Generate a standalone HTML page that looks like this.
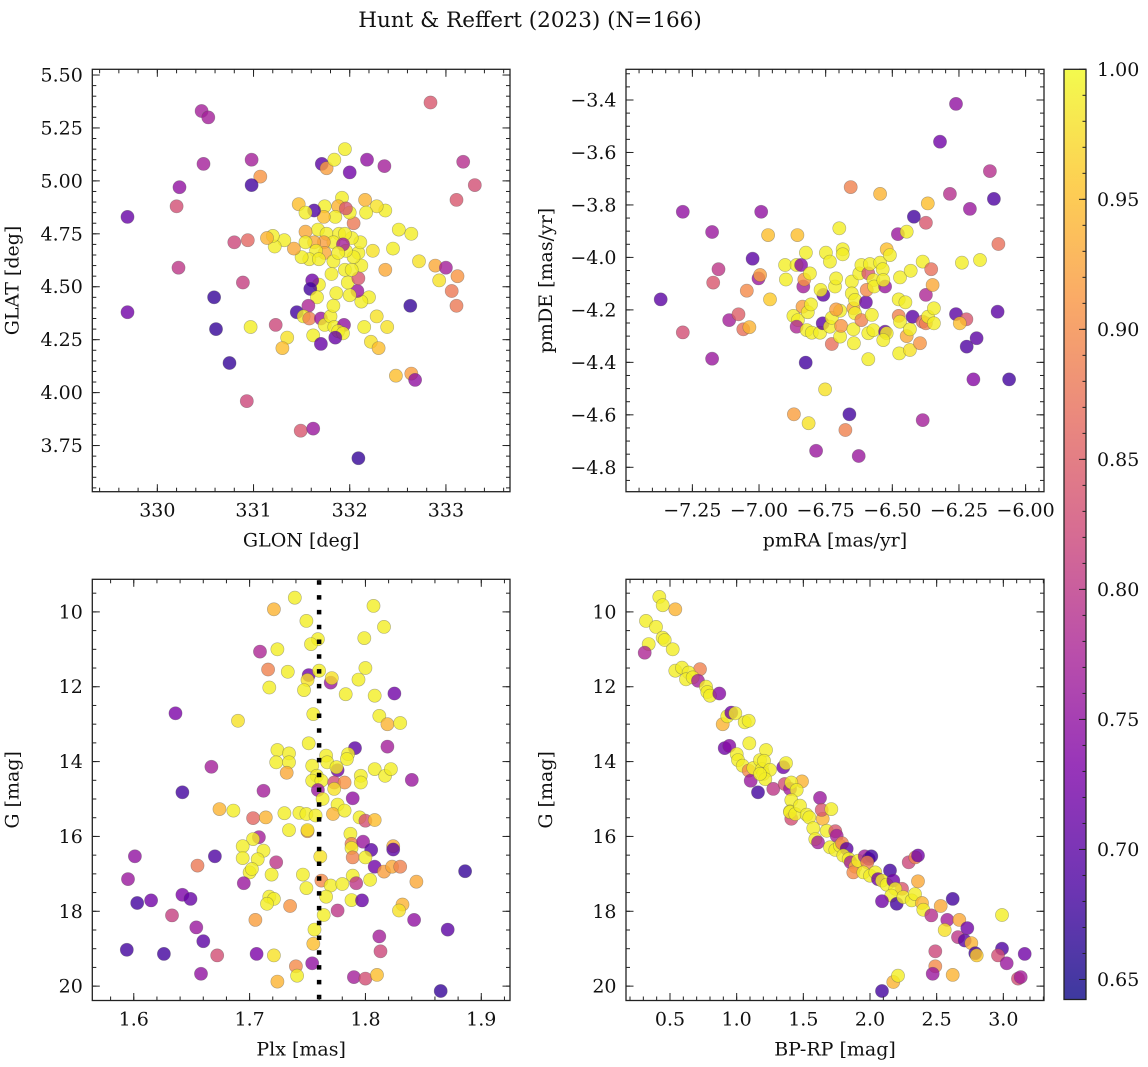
<!DOCTYPE html>
<html><head><meta charset="utf-8"><title>Hunt & Reffert (2023)</title>
<style>
html,body{margin:0;padding:0;background:#fff;}
svg{display:block;font-family:"DejaVu Serif","Liberation Serif",serif;}
</style></head>
<body>
<svg id="fig" xmlns="http://www.w3.org/2000/svg" width="1148" height="1067" viewBox="0 0 1148 1067">
<rect width="1148" height="1067" fill="#fff"/>
<text x="530" y="27" font-size="21.5" text-anchor="middle" fill="#111">Hunt &amp; Reffert (2023) (N=166)</text>
<defs>
<linearGradient id="plasma" x1="0" y1="1" x2="0" y2="0">
<stop offset="0" stop-color="#0d0887"/><stop offset="0.125" stop-color="#4c02a1"/><stop offset="0.25" stop-color="#7e03a8"/><stop offset="0.375" stop-color="#a92395"/><stop offset="0.5" stop-color="#cc4778"/><stop offset="0.625" stop-color="#e56b5d"/><stop offset="0.75" stop-color="#f89441"/><stop offset="0.875" stop-color="#fdc328"/><stop offset="1" stop-color="#f0f921"/>
</linearGradient>
</defs>
<g id="plots"></g>
</svg>
<script>
// membership probability colour scale
const probMin = 0.6423, probMax = 1.0;
const cbarTicks = [0.65,0.70,0.75,0.80,0.85,0.90,0.95,1.00];

// panel 1: [GLON, GLAT, prob]
const skyPoints = [
[330.46,5.33,.77],[330.53,5.30,.77],[332.84,5.37,.84],[330.48,5.08,.77],[330.98,5.10,.77],[331.71,5.08,.70],[331.76,5.06,.92],[331.84,5.10,.99],[331.95,5.15,.99],[332.00,5.04,.72],[332.18,5.10,.75],[332.36,5.07,.77],[333.18,5.09,.79],[333.30,4.98,.83],[333.11,4.91,.84],[331.07,5.02,.91],[330.98,4.98,.68],[330.23,4.97,.75],[330.20,4.88,.83],[329.69,4.83,.71],[330.22,4.59,.80],[329.69,4.38,.72],[330.59,4.45,.67],[330.61,4.30,.67],[330.75,4.14,.67],[330.89,4.52,.81],[330.80,4.71,.82],[330.94,4.72,.86],[330.97,4.31,.99],[331.23,4.32,.82],[331.35,4.26,.98],[331.30,4.21,.95],[330.93,3.96,.82],[331.49,3.82,.84],[331.62,3.83,.76],[332.09,3.69,.67],[332.63,4.41,.67],[332.48,4.08,.95],[332.64,4.09,.92],[332.68,4.06,.75],[332.72,4.62,.98],[332.89,4.60,.93],[333.00,4.59,.77],[332.93,4.53,.98],[333.12,4.55,.91],[333.06,4.48,.88],[333.11,4.41,.88],[332.64,4.75,.99],[332.51,4.77,.99],[332.45,4.68,.99],[332.37,4.86,.99],[332.28,4.88,.98],[332.16,4.91,.94],[332.17,4.85,.99],[332.24,4.67,.98],[332.37,4.58,.93],[332.39,4.31,.98],[332.28,4.36,.98],[332.22,4.24,.98],[332.30,4.21,.95],[332.15,4.31,.99],[332.20,4.45,.99],[332.12,4.43,.99],[332.08,4.48,.76],[332.00,4.46,.99],[331.98,4.52,.99],[332.09,4.54,.84],[332.12,4.60,.99],[332.09,4.66,.99],[332.11,4.71,.99],[332.04,4.64,.99],[331.96,4.67,.99],[332.02,4.73,.99],[332.04,4.80,.88],[332.00,4.85,.99],[331.92,4.92,.99],[331.88,4.88,.94],[331.96,4.87,.84],[331.85,4.83,.99],[331.74,4.88,.99],[331.73,4.83,.95],[331.63,4.86,.69],[331.47,4.89,.95],[331.54,4.85,.99],[331.67,4.77,.99],[331.54,4.76,.93],[331.76,4.75,.99],[331.89,4.75,.99],[331.95,4.75,.99],[331.83,4.71,.99],[331.73,4.71,.92],[331.63,4.71,.93],[331.54,4.71,.99],[331.74,4.66,.93],[331.83,4.62,.99],[331.65,4.67,.99],[331.58,4.63,.99],[331.68,4.63,.99],[331.50,4.64,.99],[331.42,4.68,.93],[331.32,4.72,.99],[331.22,4.69,.99],[331.20,4.74,.99],[331.14,4.73,.94],[331.93,4.70,.77],[331.88,4.66,.99],[331.95,4.58,.99],[332.02,4.58,.99],[331.81,4.56,.99],[331.86,4.47,.99],[331.68,4.51,.99],[331.61,4.53,.72],[331.59,4.49,.68],[331.66,4.45,.99],[331.45,4.38,.68],[331.57,4.41,.78],[331.52,4.36,.99],[331.58,4.35,.89],[331.70,4.35,.76],[331.74,4.32,.99],[331.80,4.36,.99],[331.83,4.41,.99],[331.84,4.31,.99],[331.94,4.32,.75],[331.88,4.29,.99],[331.93,4.28,.99],[331.85,4.26,.71],[331.62,4.27,.99],[331.70,4.23,.71]
];

// panel 2: [pmRA, pmDE, prob]
const pmPoints = [
[-7.369,-4.160,.70],[-7.286,-3.826,.75],[-7.286,-4.286,.83],[-7.176,-3.903,.76],[-7.176,-4.386,.76],[-7.152,-4.045,.80],[-7.172,-4.096,.84],[-7.112,-4.239,.77],[-7.077,-4.217,.85],[-7.059,-4.274,.87],[-7.036,-4.266,.94],[-7.046,-4.127,.90],[-7.024,-4.005,.70],[-7.002,-4.080,.76],[-6.996,-4.067,.92],[-6.992,-3.826,.75],[-6.966,-3.915,.95],[-6.959,-4.160,.96],[-6.902,-4.029,.99],[-6.899,-4.084,.99],[-6.856,-3.915,.95],[-6.859,-4.029,.99],[-6.842,-4.029,.74],[-6.871,-4.223,.99],[-6.854,-4.239,.99],[-6.859,-4.264,.78],[-6.834,-4.111,.77],[-6.830,-4.084,.91],[-6.809,-4.061,.99],[-6.824,-3.982,.99],[-6.837,-4.188,.92],[-6.817,-4.209,.99],[-6.805,-4.179,.99],[-6.821,-4.277,.99],[-6.802,-4.287,.99],[-6.771,-4.287,.99],[-6.761,-4.251,.70],[-6.759,-4.143,.70],[-6.769,-4.124,.99],[-6.734,-4.264,.99],[-6.749,-3.982,.99],[-6.734,-4.016,.99],[-6.715,-4.111,.99],[-6.711,-4.080,.99],[-6.727,-4.330,.87],[-6.727,-4.230,.99],[-6.696,-4.302,.99],[-6.692,-4.261,.91],[-6.696,-4.203,.99],[-6.711,-4.198,.92],[-6.699,-3.889,.99],[-6.686,-3.969,.99],[-6.686,-3.988,.99],[-6.656,-3.732,.89],[-6.652,-4.092,.99],[-6.652,-4.137,.99],[-6.646,-4.194,.93],[-6.640,-4.162,.99],[-6.640,-4.213,.99],[-6.646,-4.274,.99],[-6.644,-4.327,.99],[-6.624,-4.061,.99],[-6.616,-4.029,.99],[-6.599,-4.171,.71],[-6.616,-4.239,.89],[-6.590,-4.061,.84],[-6.584,-4.025,.99],[-6.571,-4.086,.99],[-6.596,-4.124,.90],[-6.577,-4.219,.99],[-6.590,-4.289,.99],[-6.590,-4.388,.99],[-6.568,-4.111,.99],[-6.546,-4.020,.99],[-6.536,-4.045,.99],[-6.527,-4.111,.76],[-6.534,-4.086,.99],[-6.521,-3.969,.95],[-6.509,-3.991,.99],[-6.546,-3.758,.94],[-6.571,-4.277,.99],[-6.527,-4.283,.71],[-6.521,-4.289,.99],[-6.534,-4.315,.99],[-6.479,-3.911,.76],[-6.446,-3.902,.99],[-6.471,-4.076,.99],[-6.431,-4.051,.99],[-6.476,-4.160,.99],[-6.451,-4.171,.99],[-6.476,-4.223,.89],[-6.471,-4.245,.99],[-6.446,-4.300,.93],[-6.434,-4.274,.99],[-6.474,-4.366,.99],[-6.434,-4.353,.98],[-6.396,-4.327,.91],[-6.424,-4.226,.70],[-6.419,-3.845,.68],[-6.386,-4.016,.99],[-6.374,-3.868,.84],[-6.367,-3.794,.95],[-6.374,-4.143,.78],[-6.386,-4.245,.86],[-6.374,-4.251,.89],[-6.354,-4.045,.87],[-6.349,-4.105,.93],[-6.366,-4.226,.99],[-6.344,-4.194,.99],[-6.344,-4.251,.99],[-6.386,-4.620,.77],[-6.321,-3.559,.72],[-6.261,-3.415,.75],[-6.284,-3.758,.79],[-6.261,-4.216,.70],[-6.222,-4.236,.84],[-6.247,-4.251,.95],[-6.239,-4.020,.99],[-6.221,-4.340,.69],[-6.209,-3.815,.76],[-6.196,-4.465,.74],[-6.184,-4.308,.70],[-6.171,-4.010,.99],[-6.134,-3.671,.79],[-6.119,-3.777,.69],[-6.102,-3.949,.87],[-6.105,-4.207,.70],[-6.062,-4.465,.68],[-6.825,-4.401,.68],[-6.752,-4.503,.98],[-6.869,-4.598,.92],[-6.814,-4.632,.98],[-6.661,-4.598,.68],[-6.676,-4.658,.89],[-6.786,-4.737,.76],[-6.626,-4.757,.76]
];

// panel 3: [Plx, G, prob]
const plxPoints = [
[1.739,9.62,.99],[1.721,9.93,.94],[1.749,10.24,.99],[1.807,9.84,.99],[1.816,10.40,.99],[1.759,10.73,.99],[1.753,10.86,.99],[1.799,10.70,.99],[1.724,11.00,.99],[1.709,11.06,.78],[1.716,11.54,.89],[1.733,11.60,.99],[1.751,11.69,.72],[1.750,11.82,.98],[1.760,11.57,.99],[1.770,11.89,.76],[1.771,11.77,.98],[1.800,11.50,.99],[1.794,11.81,.99],[1.717,12.02,.99],[1.747,12.09,.99],[1.783,12.20,.99],[1.808,12.24,.99],[1.825,12.18,.72],[1.636,12.71,.73],[1.690,12.91,.98],[1.755,12.73,.99],[1.812,12.78,.99],[1.819,13.00,.94],[1.830,12.97,.99],[1.751,13.51,.99],[1.724,13.69,.99],[1.734,13.78,.99],[1.723,14.02,.99],[1.734,14.02,.99],[1.732,14.30,.93],[1.791,13.64,.70],[1.819,13.60,.77],[1.667,14.14,.77],[1.754,14.11,.99],[1.766,13.84,.99],[1.767,14.02,.99],[1.776,14.23,.72],[1.775,14.15,.99],[1.785,13.80,.99],[1.784,13.93,.99],[1.758,14.38,.99],[1.754,14.51,.99],[1.762,14.51,.99],[1.773,14.56,.83],[1.782,14.56,.91],[1.773,14.73,.98],[1.796,14.38,.99],[1.796,14.56,.99],[1.808,14.20,.99],[1.817,14.38,.99],[1.822,14.20,.99],[1.840,14.49,.76],[1.642,14.82,.68],[1.712,14.78,.77],[1.759,14.76,.76],[1.789,14.98,.75],[1.763,15.00,.99],[1.776,15.15,.99],[1.674,15.27,.94],[1.686,15.31,.99],[1.703,15.51,.86],[1.714,15.49,.94],[1.730,15.38,.99],[1.743,15.37,.99],[1.749,15.40,.99],[1.757,15.44,.99],[1.772,15.40,.94],[1.782,15.31,.99],[1.795,15.49,.99],[1.800,15.58,.83],[1.808,15.56,.95],[1.734,15.83,.99],[1.750,15.86,.91],[1.750,15.83,.98],[1.708,16.02,.77],[1.703,16.07,.99],[1.787,15.93,.99],[1.788,16.20,.89],[1.798,16.14,.76],[1.805,16.36,.70],[1.788,16.31,.99],[1.694,16.26,.99],[1.694,16.58,.99],[1.712,16.38,.99],[1.707,16.61,.99],[1.723,16.69,.80],[1.655,16.78,.88],[1.670,16.53,.69],[1.601,16.53,.75],[1.761,16.54,.98],[1.789,16.56,.89],[1.800,16.56,.99],[1.824,16.26,.94],[1.824,16.35,.70],[1.808,16.81,.72],[1.816,16.94,.92],[1.823,16.81,.93],[1.830,16.81,.89],[1.700,16.96,.99],[1.702,16.87,.99],[1.695,17.25,.76],[1.719,17.02,.99],[1.746,17.02,.99],[1.789,17.05,.99],[1.792,17.25,.80],[1.804,17.16,.99],[1.762,17.18,.90],[1.770,17.31,.99],[1.780,17.27,.99],[1.749,17.38,.99],[1.844,17.21,.93],[1.886,16.93,.67],[1.595,17.14,.76],[1.642,17.56,.73],[1.649,17.67,.71],[1.615,17.71,.72],[1.603,17.78,.68],[1.633,18.11,.81],[1.654,18.43,.76],[1.660,18.80,.70],[1.717,17.61,.99],[1.721,17.67,.99],[1.715,17.80,.99],[1.735,17.86,.91],[1.766,17.61,.99],[1.788,17.70,.99],[1.797,17.71,.71],[1.776,17.98,.80],[1.764,18.10,.99],[1.832,17.82,.94],[1.829,17.98,.98],[1.842,18.23,.75],[1.871,18.49,.70],[1.812,18.67,.77],[1.813,19.07,.82],[1.705,18.23,.92],[1.756,18.49,.99],[1.755,18.87,.95],[1.594,19.03,.68],[1.626,19.14,.68],[1.672,19.18,.83],[1.706,19.14,.73],[1.721,19.18,.98],[1.754,19.39,.75],[1.740,19.47,.90],[1.741,19.72,.99],[1.658,19.67,.75],[1.724,19.88,.94],[1.790,19.76,.77],[1.800,19.80,.83],[1.810,19.70,.95],[1.865,20.13,.67]
];

// panel 4: [BP-RP, G, prob]
const cmdPoints = [
[0.42,9.60,.99],[0.445,9.82,.99],[0.54,9.93,.94],[0.32,10.24,.99],[0.395,10.40,.99],[0.445,10.69,.99],[0.46,10.75,.99],[0.34,10.86,.99],[0.31,11.09,.78],[0.52,11.00,.99],[0.54,11.57,.99],[0.59,11.49,.99],[0.725,11.53,.89],[0.64,11.62,.99],[0.62,11.80,.99],[0.67,11.75,.99],[0.71,11.84,.77],[0.77,12.00,.99],[0.78,12.14,.99],[0.80,12.24,.99],[0.87,12.18,.74],[0.895,13.00,.94],[0.93,12.79,.99],[0.96,12.69,.72],[0.99,12.71,.99],[1.06,12.95,.99],[1.09,12.91,.99],[1.095,13.51,.99],[0.91,13.64,.72],[0.945,13.58,.74],[1.00,13.80,.99],[1.01,13.96,.99],[1.045,14.11,.99],[1.09,14.24,.90],[1.105,14.51,.76],[1.125,14.17,.99],[1.16,14.82,.68],[1.175,13.96,.99],[1.19,14.20,.99],[1.20,14.33,.99],[1.22,13.69,.99],[1.205,13.98,.99],[1.25,14.22,.99],[1.215,14.47,.99],[1.175,14.33,.99],[1.275,14.73,.80],[1.35,14.15,.72],[1.37,14.04,.99],[1.36,14.60,.83],[1.40,14.73,.77],[1.49,14.53,.94],[1.41,14.56,.99],[1.45,14.76,.99],[1.41,15.03,.99],[1.40,15.33,.99],[1.41,15.53,.83],[1.40,15.35,.99],[1.44,15.40,.99],[1.475,15.18,.99],[1.525,15.42,.99],[1.545,15.49,.99],[1.625,14.97,.76],[1.645,15.53,.94],[1.6375,15.29,.84],[1.71,15.27,.99],[1.575,15.78,.99],[1.59,16.07,.99],[1.61,16.16,.77],[1.675,15.85,.99],[1.74,15.86,.84],[1.75,15.98,.77],[1.70,16.29,.99],[1.74,16.36,.99],[1.775,16.25,.99],[1.79,16.18,.89],[1.825,16.33,.70],[1.80,16.51,.99],[1.84,16.60,.99],[1.855,16.69,.77],[1.89,16.81,.94],[1.875,16.96,.90],[1.91,16.65,.99],[1.96,16.53,.77],[1.99,16.60,.72],[2.01,16.53,.68],[1.98,16.69,.89],[1.95,16.96,.99],[2.00,17.05,.99],[2.04,16.96,.99],[2.06,17.14,.72],[2.15,16.91,.68],[2.09,17.18,.99],[2.125,17.29,.99],[2.175,17.18,.72],[2.24,17.40,.84],[2.19,17.40,.99],[2.16,17.58,.99],[2.09,17.73,.72],[2.20,17.80,.68],[2.25,17.62,.99],[2.3125,17.71,.99],[2.3375,17.54,.99],[2.39,17.78,.94],[2.40,17.96,.99],[2.29,16.69,.82],[2.34,16.56,.89],[2.36,16.51,.72],[2.36,17.20,.93],[2.46,18.11,.79],[2.53,17.86,.93],[2.62,17.67,.68],[2.58,18.23,.77],[2.56,18.50,.98],[2.67,18.23,.93],[2.66,18.69,.80],[2.71,18.78,.70],[2.73,18.45,.72],[2.76,18.85,.94],[2.79,19.12,.68],[2.80,19.18,.96],[2.49,19.07,.82],[2.49,19.47,.90],[2.47,19.67,.76],[2.62,19.70,.94],[2.99,18.10,.99],[2.99,19.00,.69],[2.96,19.18,.83],[3.025,19.39,.76],[3.16,19.14,.72],[3.11,19.80,.83],[3.13,19.76,.77],[2.175,19.89,.94],[2.21,19.72,.99],[2.09,20.13,.68]
];

// median parallax reference line
const plxMedian = 1.760;

const NS = "http://www.w3.org/2000/svg";
const root = document.getElementById('plots');
function mk(tag, attrs, parent) {
  const e = document.createElementNS(NS, tag);
  for (const k in attrs) e.setAttribute(k, attrs[k]);
  (parent || root).appendChild(e);
  return e;
}
const plasma = [[13,8,135],[76,2,161],[126,3,168],[169,35,149],[204,71,120],[229,107,93],[248,148,65],[253,195,40],[240,249,33]];
function colorOf(p) {
  let t = (p - probMin) / (probMax - probMin);
  t = Math.max(0, Math.min(1, t)) * 8;
  const i = Math.min(7, Math.floor(t)), f = t - i;
  const a = plasma[i], b = plasma[i + 1];
  return 'rgb(' + [0,1,2].map(k => Math.round(a[k] + (b[k] - a[k]) * f)).join(',') + ')';
}
function fmtNum(v, d) {
  const s = Math.abs(v).toFixed(d);
  return (v < -1e-9 ? '\u2212' : '') + s;
}

const panels = [
  {key:'sky', pts:skyPoints, L:92.3, R:510, T:69.3, B:491.7, x0:329.324, x1:333.666, y0:3.532, y1:5.527, inv:false,
   xmaj:[330,331,332,333], xmin:0.2, xd:0, ymaj:[3.75,4.0,4.25,4.5,4.75,5.0,5.25,5.5], ymin:0.05, yd:2,
   xl:'GLON [deg]', yl:'GLAT [deg]'},
  {key:'pm', pts:pmPoints, L:626, R:1044, T:69.3, B:491.7, x0:-7.499, x1:-5.931, y0:-4.893, y1:-3.283, inv:false,
   xmaj:[-7.25,-7.0,-6.75,-6.5,-6.25,-6.0], xmin:0.05, xd:2, ymaj:[-4.8,-4.6,-4.4,-4.2,-4.0,-3.8,-3.6,-3.4], ymin:0.05, yd:1,
   xl:'pmRA [mas/yr]', yl:'pmDE [mas/yr]'},
  {key:'plx', pts:plxPoints, L:92.3, R:510, T:579.3, B:1000.5, x0:1.5642, x1:1.9248, y0:9.129, y1:20.384, inv:true,
   xmaj:[1.6,1.7,1.8,1.9], xmin:0.02, xd:1, ymaj:[10,12,14,16,18,20], ymin:0.5, yd:0,
   xl:'Plx [mas]', yl:'G [mag]'},
  {key:'cmd', pts:cmdPoints, L:626, R:1044, T:579.3, B:1000.5, x0:0.170, x1:3.305, y0:9.129, y1:20.384, inv:true,
   xmaj:[0.5,1.0,1.5,2.0,2.5,3.0], xmin:0.1, xd:1, ymaj:[10,12,14,16,18,20], ymin:0.5, yd:0,
   xl:'BP-RP [mag]', yl:'G [mag]'}
];

panels.forEach(P => {
  const sx = v => P.L + (v - P.x0) / (P.x1 - P.x0) * (P.R - P.L);
  const sy = P.inv ? (v => P.T + (v - P.y0) / (P.y1 - P.y0) * (P.B - P.T))
                   : (v => P.B - (v - P.y0) / (P.y1 - P.y0) * (P.B - P.T));
  const g = mk('g', {});
  
  
  const cid = 'clip-' + P.key;
  const cp = mk('clipPath', {id: cid}, g);
  mk('rect', {x:P.L, y:P.T, width:P.R-P.L, height:P.B-P.T}, cp);

  const pg = mk('g', {'clip-path':'url(#' + cid + ')'}, g);
  
  
  P.pts.forEach(d => {
    const c = mk('circle', {cx:sx(d[0]).toFixed(1), cy:sy(d[1]).toFixed(1), r:6.6, fill:colorOf(d[2]), 'fill-opacity':0.8, stroke:'#555', 'stroke-opacity':0.45, 'stroke-width':0.6}, pg);
    
    
  });
  if (P.key === 'plx') {
    const ln = mk('line', {x1:sx(plxMedian), x2:sx(plxMedian), y1:P.T + 1, y2:P.B, stroke:'#000', 'stroke-width':4.5, 'stroke-dasharray':'4.5 10.3'}, g);
    
    
  }
  const tk = mk('g', {stroke:'#222', 'stroke-width':1}, g);
  
  
  function xt(v, len) {
    const x = sx(v);
    mk('line', {x1:x, x2:x, y1:P.B, y2:P.B - len}, tk);
    mk('line', {x1:x, x2:x, y1:P.T, y2:P.T + len}, tk);
  }
  function yt(v, len) {
    const y = sy(v);
    mk('line', {x1:P.L, x2:P.L + len, y1:y, y2:y}, tk);
    mk('line', {x1:P.R, x2:P.R - len, y1:y, y2:y}, tk);
  }
  for (let v = Math.ceil(P.x0 / P.xmin) * P.xmin; v <= P.x1; v += P.xmin) xt(v, 4);
  for (let v = Math.ceil(P.y0 / P.ymin) * P.ymin; v <= P.y1; v += P.ymin) yt(v, 4);
  P.xmaj.forEach(v => xt(v, 7.5));
  P.ymaj.forEach(v => yt(v, 7.5));
  const fr = mk('rect', {x:P.L, y:P.T, width:P.R-P.L, height:P.B-P.T, fill:'none', stroke:'#222', 'stroke-width':1.3}, g);
  
  
  P.xmaj.forEach(v => {
    const t = mk('text', {x:sx(v), y:P.B + 25, 'font-size':19, 'text-anchor':'middle', fill:'#111'}, g);
    t.textContent = fmtNum(v, P.xd);
    
    
  });
  P.ymaj.forEach(v => {
    const t = mk('text', {x:P.L - 9.5, y:sy(v) + 6.5, 'font-size':19, 'text-anchor':'end', fill:'#111'}, g);
    t.textContent = fmtNum(v, P.yd);
    
    
  });
  const xl = mk('text', {x:(P.L + P.R) / 2, y:P.B + 55, 'font-size':19, 'text-anchor':'middle', fill:'#111'}, g);
  xl.textContent = P.xl;
  
  
  const yx = P.L - 74, yy = (P.T + P.B) / 2;
  const yl = mk('text', {x:yx, y:yy, 'font-size':19, 'text-anchor':'middle', fill:'#111', transform:'rotate(-90 ' + yx + ' ' + yy + ')'}, g);
  yl.textContent = P.yl;
  
  
});

// colorbar
(function () {
  const L = 1064, R = 1086, T = 69.3, B = 999.5;
  const cy = v => B - (v - probMin) / (probMax - probMin) * (B - T);
  const g = mk('g', {});
  
  
  mk('rect', {x:L, y:T, width:R-L, height:B-T, fill:'url(#plasma)', 'fill-opacity':0.8}, g);
  for (let v = 0.65; v <= 1.0001; v += 0.01) {
    mk('line', {x1:R, x2:R - 3.5, y1:cy(v), y2:cy(v), stroke:'#222', 'stroke-width':1}, g);
  }
  cbarTicks.forEach(v => {
    mk('line', {x1:R, x2:R - 7, y1:cy(v), y2:cy(v), stroke:'#222', 'stroke-width':1}, g);
    const t = mk('text', {x:R + 11, y:cy(v) + 6.5, 'font-size':19, fill:'#111'}, g);
    t.textContent = v.toFixed(2);
    
    
  });
  mk('rect', {x:L, y:T, width:R-L, height:B-T, fill:'none', stroke:'#222', 'stroke-width':1.3}, g);
})();
</script>
</body></html>
